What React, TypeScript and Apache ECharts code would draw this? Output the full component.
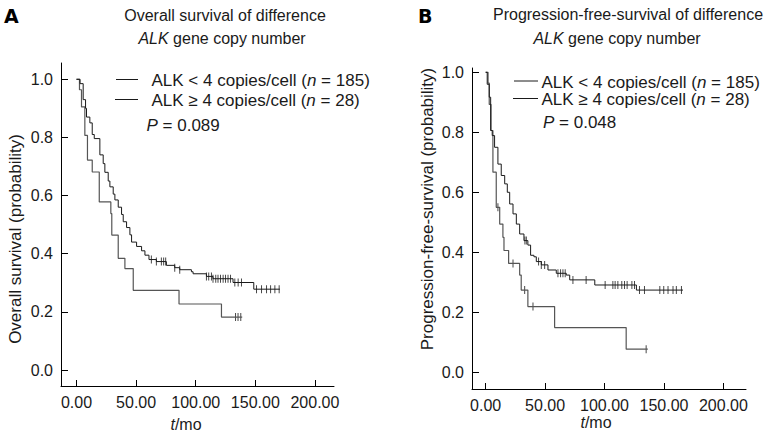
import React, { useEffect, useRef } from 'react';
import * as echarts from 'echarts';

const FONT = '"Liberation Sans", Arial, sans-serif';
const INK = '#1a1a1a';

const xTicks = [0, 50, 100, 150, 200];
const yTicks = [0, 0.2, 0.4, 0.6, 0.8, 1.0];

// Panel A: overall survival (t in months, survival probability)
const osLow: [number, number][] = [
  [0, 1.0], [3, 0.985], [5.6, 0.93], [7.6, 0.9], [8.4, 0.87], [11.2, 0.85], [13.2, 0.81],
  [14.9, 0.796], [19.6, 0.74], [22.4, 0.71], [23.8, 0.68], [26.6, 0.65], [28, 0.63],
  [30.8, 0.605], [32.2, 0.585], [35, 0.56], [37.8, 0.535], [39.2, 0.51], [42, 0.49],
  [44.8, 0.465], [46.2, 0.44], [50.4, 0.425], [54.6, 0.41], [57.4, 0.395], [60.8, 0.38],
  [67, 0.373], [75.4, 0.36], [82.4, 0.352], [86.6, 0.345], [96.4, 0.338], [97.8, 0.331],
  [109, 0.322], [114.5, 0.314], [131.3, 0.301], [148.7, 0.278], [170.6, 0.278],
];
const osHigh: [number, number][] = [
  [0, 1.0], [2.5, 0.964], [4.2, 0.905], [7, 0.807], [9.2, 0.722], [13.2, 0.681], [19.1, 0.578],
  [28.8, 0.538], [29.6, 0.464], [35, 0.384], [40.6, 0.349], [47.6, 0.274], [86, 0.227],
  [121.6, 0.182], [139, 0.182],
];
const osLowCens = [62.8, 67, 71.2, 73.1, 74.8, 82.4, 86.6, 109, 110.9, 113.2, 114.5, 116.8, 118.7,
  120.8, 123, 125, 127.1, 129.2, 132.8, 135.6, 138.4, 151, 155.2, 159.4, 162.8, 166.4, 170];
const osHighCens = [133.4, 135.5, 137.8];

// Panel B: progression-free survival
const pfsLow: [number, number][] = [
  [0, 1.0], [1.3, 0.96], [3, 0.917], [4.2, 0.806], [5.5, 0.789], [7.5, 0.75], [10.3, 0.694],
  [13.1, 0.656], [16, 0.628], [18.2, 0.6], [20.2, 0.561], [23, 0.528], [25.8, 0.494],
  [28.6, 0.461], [32.2, 0.439], [35.5, 0.424], [37.8, 0.39], [40.6, 0.385], [42.6, 0.369],
  [46.8, 0.358], [52.4, 0.341], [59.4, 0.33], [67.8, 0.324], [70.7, 0.308], [91.8, 0.291],
  [126.8, 0.274], [166, 0.274],
];
const pfsHigh: [number, number][] = [
  [0, 1.0], [2, 0.964], [3, 0.893], [4.5, 0.806], [6.1, 0.667], [8.9, 0.55], [11.8, 0.494],
  [14.5, 0.45], [15.4, 0.406], [19.3, 0.363], [28.6, 0.324], [29.9, 0.274], [35.5, 0.219],
  [58, 0.149], [118.2, 0.077], [136.4, 0.077],
];
const pfsLowCens = [33, 34.2, 44.5, 46.8, 49.6, 60.8, 63, 65, 66.9, 73.4, 84.5, 100.5, 107, 108.9,
  111.2, 114.5, 116.8, 119, 123, 125.2, 129.4, 133.6, 146.5, 149.8, 153.4, 157.6, 160.4, 164.7];
const pfsHighCens = [10.3, 23, 32.8, 39.8, 135];

function stepAt(curve: [number, number][], t: number): number {
  let v = curve[0][1];
  for (const [ct, s] of curve) {
    if (ct <= t) v = s;
    else break;
  }
  return v;
}

const richBase = { fontSize: 16, fontFamily: FONT, fill: INK };
const richItalic = { fontSize: 16, fontFamily: FONT, fill: INK, fontStyle: 'italic' };
const richBase17 = { fontSize: 17, fontFamily: FONT, fill: INK };
const richItalic17 = { fontSize: 17, fontFamily: FONT, fill: INK, fontStyle: 'italic' };

function makeAxes(gi: number, xmin: number, xmax: number, ymin: number, ymax: number) {
  const xAxis = {
    gridIndex: gi, type: 'value', min: xmin, max: xmax,
    axisLine: { show: true, onZero: false, lineStyle: { color: '#000', width: 1 } },
    axisTick: { show: true, inside: true, length: 6, customValues: xTicks, lineStyle: { color: '#000' } },
    axisLabel: { customValues: xTicks, formatter: (v: number) => v.toFixed(2), color: INK, fontSize: 16, fontFamily: FONT, margin: 8 },
    splitLine: { show: false },
  };
  const yAxis = {
    gridIndex: gi, type: 'value', min: ymin, max: ymax,
    axisLine: { show: true, onZero: false, lineStyle: { color: '#000', width: 1 } },
    axisTick: { show: true, inside: true, length: 7, customValues: yTicks, lineStyle: { color: '#000' } },
    axisLabel: { customValues: yTicks, formatter: (v: number) => v.toFixed(1), color: INK, fontSize: 16, fontFamily: FONT, margin: 8 },
    splitLine: { show: false },
  };
  return { xAxis, yAxis };
}

function curveSeries(idx: number, curve: [number, number][], cens: number[], color: string, width: number) {
  return [
    {
      type: 'line', xAxisIndex: idx, yAxisIndex: idx, data: curve, step: 'end', symbol: 'none',
      lineStyle: { color, width }, silent: true,
    },
    {
      type: 'scatter', xAxisIndex: idx, yAxisIndex: idx,
      data: cens.map((t) => [t, stepAt(curve, t)]),
      symbol: 'rect', symbolSize: [1, 8], itemStyle: { color: INK }, silent: true,
    },
  ];
}

function legendBlock(x0: number, x1: number, tx: number, y1: number, y2: number, px: number, py: number, pval: string) {
  return [
    { type: 'line', shape: { x1: x0, y1: y1, x2: x1, y2: y1 }, style: { stroke: INK, lineWidth: 1 } },
    { type: 'line', shape: { x1: x0 - 1, y1: y2, x2: x1, y2: y2 }, style: { stroke: INK, lineWidth: 1 } },
    {
      type: 'text', x: tx, y: y1 + 1,
      style: {
        text: '{n|ALK < 4 copies/cell (}{i|n}{n| = 185)}', rich: { n: richBase17, i: richItalic17 },
        verticalAlign: 'middle', align: 'left',
      },
    },
    {
      type: 'text', x: tx, y: y2 + 1,
      style: {
        text: '{n|ALK ≥ 4 copies/cell (}{i|n}{n| = 28)}', rich: { n: richBase17, i: richItalic17 },
        verticalAlign: 'middle', align: 'left',
      },
    },
    {
      type: 'text', x: px, y: py,
      style: {
        text: '{i|P}{n| = ' + pval + '}', rich: { n: richBase17, i: richItalic17 },
        verticalAlign: 'middle', align: 'left',
      },
    },
  ];
}

export default function App() {
  const ref = useRef<HTMLDivElement>(null);
  useEffect(() => {
    if (!ref.current) return;
    const chart = echarts.init(ref.current, undefined, { renderer: 'svg' });
    const a = makeAxes(0, -13, 216, -0.055, 1.056);
    const b = makeAxes(1, -11.5, 219, -0.0557, 1.0143);
    const option: any = {
      animation: false,
      backgroundColor: '#fff',
      grid: [
        { left: 61, top: 63, width: 273, height: 323 },
        { left: 472, top: 68, width: 274, height: 321 },
      ],
      xAxis: [a.xAxis, b.xAxis],
      yAxis: [a.yAxis, b.yAxis],
      series: [
        ...curveSeries(0, osHigh, osHighCens, '#555', 1.2),
        ...curveSeries(0, osLow, osLowCens, INK, 1),
        ...curveSeries(1, pfsHigh, pfsHighCens, '#555', 1.2),
        ...curveSeries(1, pfsLow, pfsLowCens, INK, 1),
      ],
      graphic: [
        { type: 'text', x: 4, y: 16, style: { text: 'A', font: 'bold 19px "DejaVu Sans", sans-serif', fill: '#000', verticalAlign: 'middle' } },
        { type: 'text', x: 418, y: 16, style: { text: 'B', font: 'bold 19px "DejaVu Sans", sans-serif', fill: '#000', verticalAlign: 'middle' } },
        {
          type: 'text', x: 225, y: 15,
          style: { text: 'Overall survival of difference', ...richBase, align: 'center', verticalAlign: 'middle' },
        },
        {
          type: 'text', x: 222, y: 38,
          style: { text: '{i|ALK}{n| gene copy number}', rich: { n: richBase, i: richItalic }, align: 'center', verticalAlign: 'middle' },
        },
        {
          type: 'text', x: 628, y: 14,
          style: { text: 'Progression-free-survival of difference', ...richBase, align: 'center', verticalAlign: 'middle' },
        },
        {
          type: 'text', x: 617, y: 38,
          style: { text: '{i|ALK}{n| gene copy number}', rich: { n: richBase, i: richItalic }, align: 'center', verticalAlign: 'middle' },
        },
        {
          type: 'text', x: 15, y: 239, rotation: Math.PI / 2,
          style: { text: 'Overall survival (probability)', ...richBase17, align: 'center', verticalAlign: 'middle' },
        },
        {
          type: 'text', x: 427, y: 209, rotation: Math.PI / 2,
          style: { text: 'Progression-free-survival (probability)', ...richBase17, align: 'center', verticalAlign: 'middle' },
        },
        {
          type: 'text', x: 186, y: 424,
          style: { text: '{i|t}{n|/mo}', rich: { n: richBase, i: richItalic }, align: 'center', verticalAlign: 'middle' },
        },
        {
          type: 'text', x: 596, y: 422,
          style: { text: '{i|t}{n|/mo}', rich: { n: richBase, i: richItalic }, align: 'center', verticalAlign: 'middle' },
        },
        ...legendBlock(116, 138, 151.5, 79.5, 99.5, 146.5, 125, '0.089'),
        ...legendBlock(514, 538, 541.5, 81, 98.5, 543, 122, '0.048'),
      ],
    };
    chart.setOption(option);
    return () => chart.dispose();
  }, []);
  return <div ref={ref} style={{ position: 'absolute', left: 0, top: 0, width: 770, height: 436 }} />;
}
